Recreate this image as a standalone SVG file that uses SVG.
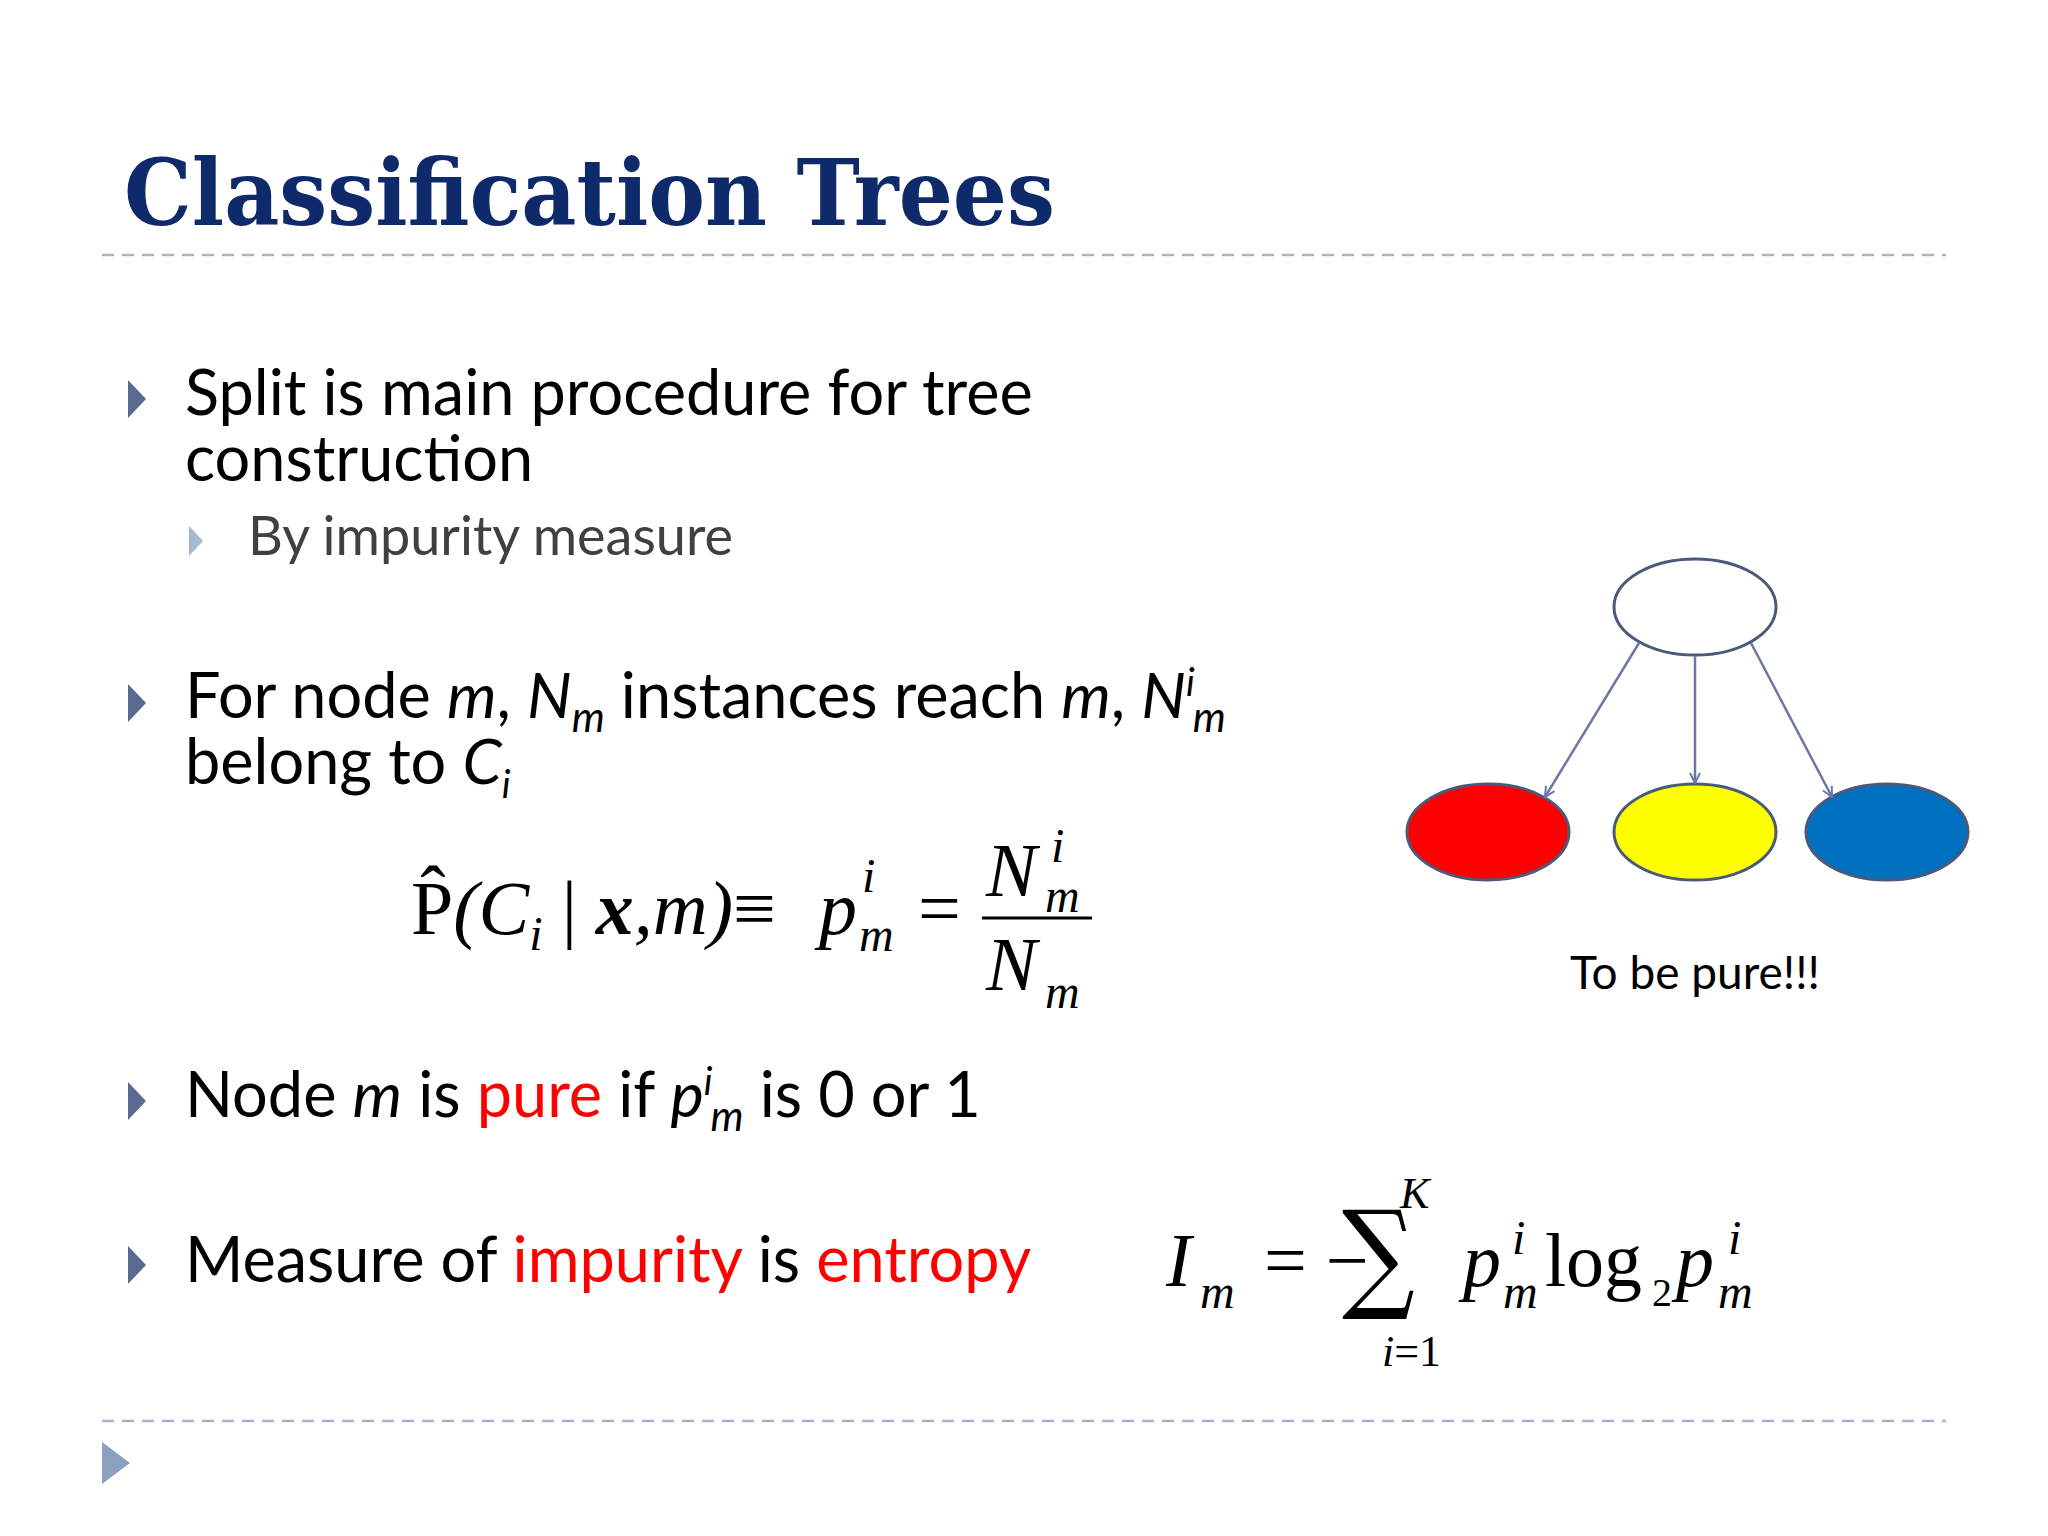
<svg xmlns="http://www.w3.org/2000/svg" width="2048" height="1536" viewBox="0 0 2048 1536">
<style>
.t{font-family:Lato,"Open Sans",sans-serif;font-size:63px;fill:#000}
.s{font-family:Lato,"Open Sans",sans-serif;font-size:54px;fill:#404040}
.m{font-family:"Liberation Serif",serif;font-style:italic;fill:#000}
.n{font-family:"Liberation Serif",serif;fill:#000}
.r{fill:#FF0000}
.dash{stroke:#a8b4c8;stroke-width:2.5;stroke-dasharray:12 8}
.bul{fill:#5a6a90}
.ell{stroke:#4a5a7a;stroke-width:3}
.con{stroke:#6a78a8;stroke-width:2.5;fill:none;marker-end:url(#ah)}
</style>
<defs><marker id="ah" viewBox="0 0 12 12" refX="11" refY="6" markerWidth="12" markerHeight="12" markerUnits="userSpaceOnUse" orient="auto"><path d="M1,1 L11,6 L1,11" fill="none" stroke="#6a78a8" stroke-width="2"/></marker></defs>
<rect width="2048" height="1536" fill="#fff"/>
<text x="124" y="225" font-family="DejaVu Serif,serif" font-weight="bold" font-size="92" fill="#0F2A6B" textLength="931" lengthAdjust="spacingAndGlyphs">Classification Trees</text>
<line class="dash" x1="102" y1="255" x2="1946" y2="255"/>
<line class="dash" x1="102" y1="1421" x2="1946" y2="1421"/>
<path class="bul" d="M128,380 L146,399 L128,418Z"/>
<path d="M189,526 L203,541 L189,556Z" fill="#a8b8d0"/>
<path class="bul" d="M128,684 L146,703 L128,722Z"/>
<path class="bul" d="M128,1082 L146,1101 L128,1120Z"/>
<path class="bul" d="M128,1246 L146,1265 L128,1284Z"/>
<path d="M102,1442 L130,1463 L102,1484Z" fill="#8ea0c0"/>
<text class="t" x="185" y="415">Split is main procedure for tree</text>
<text class="t" x="185" y="481">construction</text>
<text class="s" x="248" y="555">By impurity measure</text>
<text class="t" x="185" y="718">For node <tspan font-style="italic">m</tspan>, <tspan font-style="italic">N</tspan><tspan font-style="italic" font-size="42" dy="14">m</tspan><tspan dy="-14"> instances reach </tspan><tspan font-style="italic">m</tspan>, <tspan font-style="italic">N</tspan><tspan font-style="italic" font-size="38" dy="-22">i</tspan><tspan font-style="italic" font-size="42" dx="-2" dy="36">m</tspan></text>
<text class="t" x="185" y="784">belong to <tspan font-style="italic">C</tspan><tspan font-style="italic" font-size="38" dy="14">i</tspan></text>
<g id="formula1">
<text class="m" x="411" y="934" font-size="76"><tspan font-style="normal">P̂</tspan>(C<tspan font-size="48" dy="16">i</tspan><tspan dy="-16" font-style="normal"> | </tspan><tspan font-weight="bold">x</tspan>,m)<tspan font-style="normal">≡</tspan></text>
<text class="m" x="819" y="934" font-size="76">p</text>
<text class="m" x="862" y="892" font-size="48">i</text>
<text class="m" x="859" y="951" font-size="48">m</text>
<text class="n" x="918" y="934" font-size="76">=</text>
<line x1="982" y1="918" x2="1092" y2="918" stroke="#000" stroke-width="3"/>
<text class="m" x="986" y="896" font-size="76">N</text>
<text class="m" x="1051" y="862" font-size="48">i</text>
<text class="m" x="1045" y="912" font-size="48">m</text>
<text class="m" x="986" y="990" font-size="76">N</text>
<text class="m" x="1045" y="1008" font-size="48">m</text>
</g>
<text class="t" x="185" y="1117">Node <tspan font-style="italic">m</tspan> is <tspan class="r">pure</tspan> if <tspan font-style="italic">p</tspan><tspan font-style="italic" font-size="38" dy="-22">i</tspan><tspan font-style="italic" font-size="42" dx="-2" dy="36">m</tspan><tspan dy="-14"> is 0 or 1</tspan></text>
<text class="t" x="185" y="1282">Measure of <tspan class="r">impurity</tspan> is <tspan class="r">entropy</tspan></text>
<g id="formula2">
<text class="m" x="1166" y="1286" font-size="76">I</text>
<text class="m" x="1200" y="1308" font-size="48">m</text>
<text class="n" x="1264" y="1286" font-size="76">= −</text>
<text x="1342" y="1296" font-family="DejaVu Serif,serif" font-size="120" transform="translate(1342 1296) scale(0.85 1) translate(-1342 -1296)">∑</text>
<text class="m" x="1400" y="1208" font-size="44">K</text>
<text class="m" x="1382" y="1366" font-size="44">i<tspan font-style="normal">=1</tspan></text>
<text class="m" x="1463" y="1286" font-size="76">p</text>
<text class="m" x="1512" y="1254" font-size="48">i</text>
<text class="m" x="1503" y="1308" font-size="48">m</text>
<text class="n" x="1545" y="1286" font-size="76">log</text>
<text class="n" x="1652" y="1306" font-size="40">2</text>
<text class="m" x="1676" y="1286" font-size="76">p</text>
<text class="m" x="1728" y="1254" font-size="48">i</text>
<text class="m" x="1718" y="1308" font-size="48">m</text>
</g>
<g id="root"><ellipse class="ell" cx="1695" cy="607" rx="81" ry="48" fill="#fff"/></g>
<g id="red"><ellipse class="ell" cx="1488" cy="832" rx="81" ry="48" fill="#FF0000"/></g>
<g id="yellow"><ellipse class="ell" cx="1695" cy="832" rx="81" ry="48" fill="#FFFF00"/></g>
<g id="blue"><ellipse class="ell" cx="1887" cy="832" rx="81" ry="48" fill="#0070C0"/></g>
<g id="connectors">
<line class="con" x1="1639" y1="643" x2="1545" y2="797"/>
<line class="con" x1="1695" y1="656" x2="1695" y2="783"/>
<line class="con" x1="1751" y1="643" x2="1832" y2="797"/>
</g>
<text x="1695" y="989" text-anchor="middle" font-family="Lato,'Open Sans',sans-serif" font-size="46">To be pure!!!</text>
</svg>
